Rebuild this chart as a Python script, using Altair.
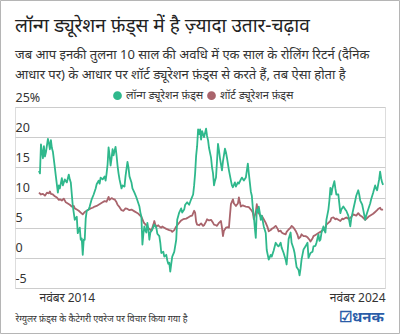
import altair as alt
import pandas as pd

FONT = "Noto Sans"

long_name = "लॉन्ग ड्यूरेशन फ़ंड्स"
short_name = "शॉर्ट ड्यूरेशन फ़ंड्स"

# weeks since 1 Nov 2014
long_wk = [0, 1.5, 3, 6, 7.5, 9, 10.5, 13.5, 15, 16.5, 18, 19.5, 21, 24, 25.5, 28.5, 30, 31.5, 34.5, 36,
           39, 42, 45, 46.5, 48, 51, 54, 57, 58.5, 61.5, 63, 64.5, 66, 67.5, 69, 70.5, 72, 75, 76.5, 79.5,
           82.5, 85.5, 87, 90, 91.5, 93, 96, 99, 100.5, 102, 103.5, 105, 106.5, 108, 109.5, 111, 112.5, 115.5, 117, 118.5,
           120, 121.5, 124.5, 126, 129, 130.5, 133.5, 135, 136.5, 139.5, 141, 144, 147, 148.5, 151.5, 153, 154.5, 156, 157.5, 159,
           160.5, 162, 163.5, 165, 166.5, 168, 171, 174, 177, 178.5, 181.5, 183, 184.5, 187.5, 189, 192, 193.5, 195, 196.5, 198,
           199.5, 201, 204, 207, 208.5, 211.5, 214.5, 216, 219, 220.5, 223.5, 226.5, 229.5, 232.5, 234, 235.5, 237, 238.5, 240, 241.5,
           243, 244.5, 246, 249, 252, 253.5, 255, 256.5, 259.5, 261, 262.5, 264, 265.5, 267, 268.5, 270, 271.5, 273, 274.5, 276,
           277.5, 280.5, 282, 283.5, 286.5, 289.5, 291, 292.5, 295.5, 297, 300, 301.5, 304.5, 306, 309, 312, 315, 316.5, 318, 319.5,
           321, 322.5, 324, 325.5, 327, 328.5, 330, 331.5, 333, 334.5, 336, 339, 342, 343.5, 346.5, 349.5, 351, 354, 357, 360,
           361.5, 364.5, 366, 369, 372, 373.5, 376.5, 379.5, 381, 384, 385.5, 388.5, 391.5, 393, 394.5, 396, 399, 402, 405, 406.5,
           409.5, 412.5, 414, 417, 418.5, 421.5, 423, 424.5, 426, 429, 430.5, 432, 433.5, 436.5, 438, 439.5, 441, 442.5, 445.5, 447,
           448.5, 451.5, 453, 454.5, 456, 459, 462, 463.5, 466.5, 469.5, 471, 474, 477, 478.5, 481.5, 483, 484.5, 487.5, 489, 492,
           493.5, 496.5, 499.5, 501, 504, 507, 508.5, 510, 513, 514.5, 516, 517.5, 519]
long_val = [14.4, 14.0, 18.8, 16.5, 18.5, 16.8, 17.5, 19.7, 19.0, 18.0, 19.5, 18.2, 17.6, 14.9, 13.5, 10.8, 12.0, 11.5, 13.2, 12.0,
            13.0, 12.5, 13.8, 13.0, 12.5, 8.6, 6.3, 6.8, 4.1, 5.0, 3.0, 3.2, 0.5, 3.0, 3.0, 6.5, 7.8, 8.0, 8.5, 9.7,
            10.5, 11.5, 12.2, 12.8, 12.3, 13.3, 13.0, 13.5, 12.8, 14.0, 15.5, 18.3, 17.0, 15.3, 16.5, 18.0, 17.0, 18.4, 17.0, 15.3,
            14.0, 13.0, 11.5, 12.0, 11.8, 13.5, 15.9, 15.0, 13.5, 12.5, 11.5, 10.8, 10.0, 9.5, 8.5, 7.5, 6.8, 2.2, 4.0, 5.2,
            4.5, 4.2, 5.8, 4.8, 3.0, 4.2, 4.7, 5.5, 5.0, 4.0, 3.6, 2.5, 0.8, 1.0, 0.2, 0.5, -0.4, -1.0, -0.8, -2.3,
            -1.0, 0.2, 1.0, 3.0, 6.3, 7.5, 8.2, 7.5, 8.0, 8.8, 9.2, 8.8, 9.7, 10.5, 12.0, 14.0, 16.9, 18.5, 21.3, 20.5,
            21.3, 19.6, 21.0, 20.0, 21.4, 20.2, 19.5, 18.2, 16.6, 15.0, 14.0, 12.0, 12.8, 13.3, 16.0, 18.9, 17.8, 16.5, 15.5, 14.5,
            16.0, 18.1, 17.5, 16.6, 14.5, 12.8, 12.0, 11.7, 12.5, 11.8, 12.5, 12.3, 13.0, 13.3, 12.8, 13.3, 15.6, 14.0, 12.5, 11.0,
            10.3, 8.3, 7.0, 5.0, 3.3, 8.0, 7.5, 8.5, 7.5, 6.3, 7.0, 5.2, 4.1, 1.3, -0.3, 0.5, 0.2, 1.2, 2.5, 2.0,
            1.9, 2.5, 1.7, 0.8, -0.3, -1.1, 3.1, 4.2, 2.5, 1.5, 0.8, -1.5, -2.0, -2.9, -1.8, -0.3, 1.4, 1.9, 2.5, 0.0,
            0.8, 1.0, 1.9, 2.0, 2.5, 3.9, 2.8, 3.0, 4.1, 5.2, 4.5, 4.2, 6.3, 8.0, 9.5, 11.6, 10.5, 11.5, 12.7, 11.5,
            10.5, 10.5, 9.0, 7.4, 8.0, 8.5, 8.0, 7.8, 7.0, 5.2, 6.5, 8.0, 9.5, 10.3, 11.2, 10.5, 9.5, 8.8, 8.0, 6.3,
            7.0, 8.0, 9.0, 9.7, 10.8, 12.0, 11.5, 11.2, 13.0, 14.3, 13.2, 12.5, 12.1]

short_wk = [0, 3, 6, 9, 12, 15, 16.5, 18, 21, 24, 27, 30, 31.5, 34.5, 37.5, 40.5, 43.5, 46.5, 49.5, 52.5,
            54, 57, 60, 63, 66, 69, 72, 75, 78, 81, 84, 87, 90, 93, 96, 99, 102, 105, 106.5, 109.5,
            112.5, 114, 117, 118.5, 121.5, 124.5, 127.5, 130.5, 133.5, 136.5, 139.5, 144, 147, 150, 154.5, 157.5, 159, 162, 163.5, 166.5,
            169.5, 172.5, 174, 175.5, 177, 180, 181.5, 184.5, 186, 189, 192, 196.5, 199.5, 201, 204, 207, 210, 214.5, 217.5, 222,
            225, 228, 231, 234, 235.5, 237, 238.5, 241.5, 244.5, 247.5, 249, 252, 253.5, 256.5, 259.5, 262.5, 264, 267, 268.5, 271.5,
            274.5, 276, 277.5, 279, 282, 285, 286.5, 288, 289.5, 292.5, 294, 297, 300, 301.5, 303, 304.5, 307.5, 309, 312, 316.5,
            321, 322.5, 324, 325.5, 327, 328.5, 330, 331.5, 334.5, 336, 339, 342, 345, 346.5, 349.5, 351, 354, 357, 360, 361.5,
            364.5, 366, 369, 372, 373.5, 376.5, 379.5, 381, 384, 387, 390, 391.5, 394.5, 396, 399, 402, 405, 408, 409.5, 412.5,
            414, 417, 421.5, 424.5, 429, 432, 433.5, 436.5, 439.5, 441, 444, 447, 448.5, 451.5, 454.5, 457.5, 459, 462, 463.5, 466.5,
            469.5, 474, 478.5, 481.5, 484.5, 487.5, 492, 495, 498, 501, 504, 507, 510, 511.5, 514.5, 516, 519]
short_val = [10.8, 10.5, 10.6, 10.3, 10.8, 10.7, 11.0, 10.6, 10.5, 10.2, 10.0, 9.6, 9.7, 9.5, 9.8, 9.2, 9.0, 8.8, 8.5, 8.6,
             8.2, 8.0, 7.8, 7.5, 7.2, 7.6, 7.8, 8.0, 8.2, 8.3, 8.5, 8.6, 8.8, 9.0, 9.2, 9.4, 9.3, 10.1, 9.6, 9.9,
             9.7, 9.7, 9.2, 8.8, 8.4, 7.9, 7.8, 8.2, 8.1, 7.9, 8.0, 7.7, 7.5, 7.3, 6.8, 6.0, 5.7, 5.4, 5.0, 4.8,
             4.5, 5.5, 6.1, 5.5, 5.2, 5.4, 5.2, 5.0, 5.2, 5.0, 4.8, 4.6, 4.5, 4.3, 4.6, 5.2, 5.6, 6.2, 6.4, 6.5,
             6.7, 6.9, 7.0, 7.8, 7.5, 6.0, 5.5, 5.4, 5.7, 5.3, 5.4, 6.0, 6.4, 6.2, 6.3, 5.8, 5.5, 5.4, 5.3, 5.8,
             6.1, 5.0, 3.6, 4.5, 5.0, 5.1, 5.0, 7.0, 8.9, 9.7, 9.0, 8.6, 9.0, 10.0, 9.2, 8.5, 8.7, 8.6, 8.5, 8.4,
             7.8, 7.5, 6.4, 7.0, 7.5, 8.9, 7.8, 7.4, 6.8, 7.0, 6.4, 5.8, 5.0, 4.4, 4.6, 4.8, 5.0, 5.3, 4.8, 4.4,
             4.5, 4.2, 4.0, 3.9, 4.3, 4.7, 5.0, 5.3, 5.0, 4.5, 3.8, 3.2, 3.5, 3.9, 3.6, 3.6, 3.4, 3.0, 2.7, 3.2,
             3.6, 3.8, 4.1, 4.3, 4.7, 5.0, 5.5, 5.8, 6.1, 6.6, 6.7, 6.4, 6.5, 6.3, 6.1, 6.5, 6.4, 6.6, 6.7, 6.5,
             6.6, 7.2, 7.0, 7.4, 7.0, 6.8, 6.3, 6.6, 6.9, 7.1, 7.3, 7.6, 7.9, 8.1, 8.3, 8.0, 8.0]

title_text = "लॉन्ग ड्यूरेशन फ़ंड्स में है ज़्यादा उतार-चढ़ाव"
subtitle_lines = ["जब आप इनकी तुलना 10 साल की अवधि में एक साल के रोलिंग रिटर्न (दैनिक",
                  "आधार पर) के आधार पर शॉर्ट ड्यूरेशन फ़ंड्स से करते हैं, तब ऐसा होता है"]
footnote = "रेग्युलर फ़ंड्स के कैटेगरी एवरेज पर विचार किया गया है"
brand = "☑धनक"

start = pd.Timestamp("2014-11-01")
df = pd.concat([
    pd.DataFrame({"date": start + pd.to_timedelta([w * 7 for w in short_wk], unit="D"),
                  "value": short_val, "series": short_name, "order": 0}),
    pd.DataFrame({"date": start + pd.to_timedelta([w * 7 for w in long_wk], unit="D"),
                  "value": long_val, "series": long_name, "order": 1}),
])

GREEN = "#2fb88c"
RED = "#a9646c"

lines = alt.Chart(df).mark_line(strokeWidth=1.8, strokeJoin="round").encode(
    x=alt.X("date:T",
            scale=alt.Scale(domain=[alt.DateTime(year=2014, month=2, date=21),
                                    alt.DateTime(year=2024, month=11, date=1)]),
            axis=alt.Axis(values=[alt.DateTime(year=2014, month=11, date=1),
                                  alt.DateTime(year=2024, month=11, date=1)],
                          labelExpr="'नवंबर ' + timeFormat(datum.value, '%Y')",
                          labelAlign={"condition": {"test": "year(datum.value) < 2020", "value": "left"},
                                      "value": "right"},
                          grid=False, domain=False, ticks=False, labelPadding=4,
                          labelFontSize=12, labelColor="#333333", labelFont=FONT,
                          title=footnote, titleAnchor="start", titleAlign="left",
                          titleX=0, titleY=26, titleFontSize=9, titleFontWeight="normal",
                          titleColor="#333333", titleFont=FONT)),
    y=alt.Y("value:Q",
            scale=alt.Scale(domain=[-5, 25], nice=False),
            axis=alt.Axis(values=[-5, 0, 5, 10, 15, 20, 25],
                          labelExpr="datum.value == 25 ? '25%' : (datum.value < 0 ? '-' + abs(datum.value) : '' + datum.value)",
                          labelAlign="left", labelBaseline="bottom", labelPadding=0, labelOffset=-3,
                          domain=False, ticks=False, title=None,
                          gridColor="#cccccc", gridWidth=1,
                          labelFontSize=12.5, labelColor="#333333", labelFont=FONT)),
    color=alt.Color("series:N",
                    scale=alt.Scale(domain=[long_name, short_name], range=[GREEN, RED]),
                    legend=alt.Legend(orient="none", legendX=97, legendY=-17, direction="horizontal",
                                      title=None, symbolType="circle", symbolSize=18, symbolStrokeWidth=4.5,
                                      labelFontSize=11, labelColor="#333333", labelFont=FONT,
                                      columnPadding=-4, labelOffset=3)),
    detail="series:N",
    order="order:Q",
)

brand_mark = alt.Chart(pd.DataFrame({"t": [brand]})).mark_text(
    align="right", baseline="middle", fontSize=15, fontWeight="bold", color="#2a5ca8", font=FONT
).encode(text="t:N", x=alt.value(369), y=alt.value(210))

frame = alt.Chart(pd.DataFrame({"a": [0]})).mark_rect(
    fill=None, stroke="#b5b5b5", strokeWidth=1
).encode(x=alt.value(-14.5), x2=alt.value(384.5), y=alt.value(-106.5), y2=alt.value(226.5))

chart = alt.layer(lines, brand_mark, frame).properties(
    width=370, height=181,
    autosize="none",
    padding={"left": 15, "top": 107, "right": 15, "bottom": 46},
    title=alt.TitleParams(text=title_text, subtitle=subtitle_lines, anchor="start", frame="group",
                          offset=-82, fontSize=19, fontWeight="normal", font=FONT, color="#222222",
                          subtitleFontSize=13, subtitleFont=FONT, subtitleColor="#333333",
                          subtitleLineHeight=20, subtitlePadding=13),
).configure_view(stroke=None).configure(background="white")

chart.save("out.html", embed_options={"renderer": "svg", "actions": False})
